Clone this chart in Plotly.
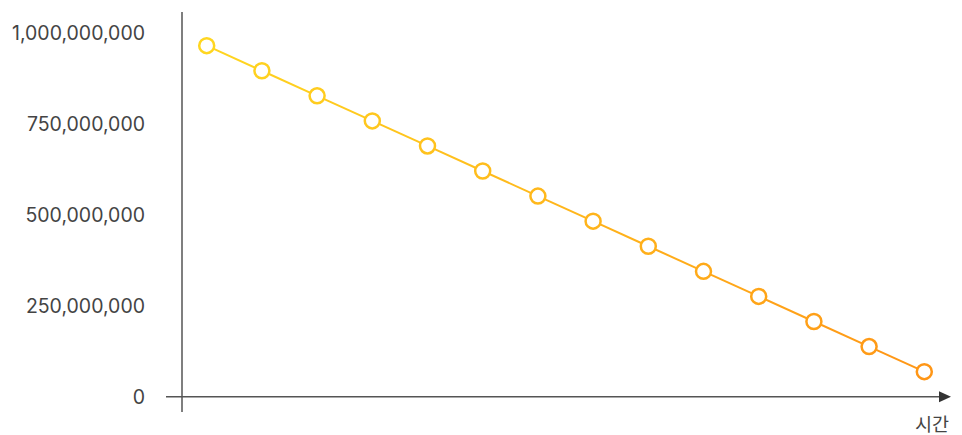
import plotly.graph_objects as go

# Data
time_idx = list(range(1, 15))
values = [966e6, 897e6, 828e6, 759e6, 690e6, 621e6, 552e6, 483e6, 414e6, 345e6, 276e6, 207e6, 138e6, 69e6]
y_ticks = [0, 250e6, 500e6, 750e6, 1000e6]
y_tick_labels = ["0", "250,000,000", "500,000,000", "750,000,000", "1,000,000,000"]
x_label = "시간"

C0 = (255, 214, 32)
C1 = (255, 150, 22)

def mix(t):
    return "rgb(%d,%d,%d)" % tuple(round(a + (b - a) * t) for a, b in zip(C0, C1))

n = len(time_idx)
cols = [mix(i / (n - 1)) for i in range(n)]

fig = go.Figure()
for i in range(n - 1):
    fig.add_trace(go.Scatter(
        x=time_idx[i:i + 2], y=values[i:i + 2], mode="lines",
        line=dict(color=mix((i + 0.5) / (n - 1)), width=2),
        hoverinfo="skip", showlegend=False))
fig.add_trace(go.Scatter(
    x=time_idx, y=values, mode="markers",
    marker=dict(size=15, color="white", line=dict(color=cols, width=2.5)),
    showlegend=False))

OFF = 8  # page body margin
W, H = 962 - OFF, 435 - OFF
L, R, T, B = 182 - OFF, 17, 12 - OFF, 23
PW = W - L - R
tip = (951 - 182) / PW
fig.update_layout(
    width=W, height=H,
    margin=dict(l=L, r=R, t=T, b=B, pad=0),
    paper_bgcolor="white", plot_bgcolor="white",
    font=dict(family="Inter, Roboto, sans-serif", color="#444", size=19.5),
    xaxis=dict(range=[0.5525, 14.375], showgrid=False, zeroline=False,
               showticklabels=False, showline=False, fixedrange=True),
    yaxis=dict(range=[-42.1e6, 1058.6e6], showgrid=False, zeroline=False,
               showline=False, tickvals=y_ticks, ticktext=y_tick_labels,
               ticks="", ticklabelstandoff=36, fixedrange=True),
)
# axis lines with overhang
fig.add_shape(type="line", xref="paper", yref="paper", x0=0, x1=0, y0=0, y1=1,
              line=dict(color="#555", width=1.5))
fig.add_shape(type="line", xref="paper", yref="y", x0=-16 / PW, x1=tip - 3 / PW,
              y0=0, y1=0, line=dict(color="#555", width=1.5))
# arrowhead
fig.add_shape(type="path", xref="paper", yref="y",
              xsizemode="pixel", ysizemode="pixel", xanchor=tip, yanchor=0,
              path="M 0 0 L -12 5.5 L -12 -5.5 Z",
              fillcolor="#333", line=dict(width=0))
fig.add_annotation(xref="paper", yref="paper", x=tip, y=0,
                   xanchor="right", yanchor="middle", yshift=-11, text=x_label,
                   showarrow=False, font=dict(size=18.5, color="#444",
                                              family="Noto Sans CJK KR"))
fig.write_html("out.html")
